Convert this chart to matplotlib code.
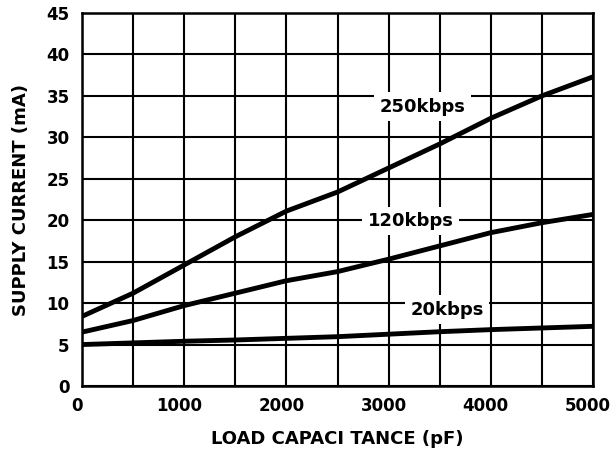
import matplotlib
matplotlib.use("Agg")
import matplotlib.pyplot as plt
import matplotlib.transforms as mtransforms
import numpy as np

# Data
cap_pf = [0, 500, 1000, 1500, 2000, 2500, 3000, 3500, 4000, 4500, 5000]
i_250k = [8.4, 11.2, 14.6, 18.0, 21.1, 23.4, 26.3, 29.2, 32.3, 35.0, 37.3]
i_120k = [6.5, 7.9, 9.7, 11.2, 12.7, 13.8, 15.3, 16.9, 18.5, 19.7, 20.7]
i_20k = [5.0, 5.2, 5.4, 5.55, 5.75, 5.95, 6.25, 6.55, 6.8, 7.0, 7.2]

series_labels = ["250kbps", "120kbps", "20kbps"]
label_pos = [(3330, 33.7), (3215, 19.9), (3570, 9.2)]

x_ticks = [0, 1000, 2000, 3000, 4000, 5000]
y_ticks = [0, 5, 10, 15, 20, 25, 30, 35, 40, 45]

plt.rcParams['font.family'] = ['DejaVu Sans']

fig = plt.figure(figsize=(6.13, 4.50), dpi=100)
ax = fig.add_axes([82/613, 1 - 386/450, (593-82)/613, (386-13)/450])

ax.set_xlim(0, 5000)
ax.set_ylim(0, 45)

grid_x = np.arange(0, 5001, 500)
ax.set_xticks(grid_x)
ax.set_xticklabels([str(v) if v in x_ticks else "" for v in grid_x])
ax.set_yticks(y_ticks)
ax.set_yticklabels([str(v) for v in y_ticks])
ax.grid(True, color='black', linewidth=1.5, zorder=0)
ax.set_axisbelow(True)

ax.tick_params(length=0, labelsize=12)
ax.tick_params(axis='x', pad=8)
ax.tick_params(axis='y', pad=9)
shift = mtransforms.ScaledTranslation(-5/100, 0, fig.dpi_scale_trans)
for lab in ax.get_xticklabels():
    lab.set_fontweight('bold')
    lab.set_transform(lab.get_transform() + shift)
for lab in ax.get_yticklabels():
    lab.set_fontweight('bold')

for s in ax.spines.values():
    s.set_linewidth(1.8)
    s.set_zorder(5)

for ys in (i_250k, i_120k, i_20k):
    ax.plot(cap_pf, ys, color='black', linewidth=3.5, zorder=4, solid_capstyle='butt')

for lab, (lx, ly) in zip(series_labels, label_pos):
    ax.text(lx, ly, lab, ha='center', va='center', fontsize=13, fontweight='bold',
            zorder=3,
            bbox=dict(boxstyle='square,pad=0.3', facecolor='white', edgecolor='none'))

ax.set_xlabel("LOAD CAPACI TANCE (pF)", fontsize=13, fontweight='bold', labelpad=11)
ax.set_ylabel("SUPPLY CURRENT (mA)", fontsize=13, fontweight='bold', labelpad=12)

fig.savefig("out.png", dpi=100)
